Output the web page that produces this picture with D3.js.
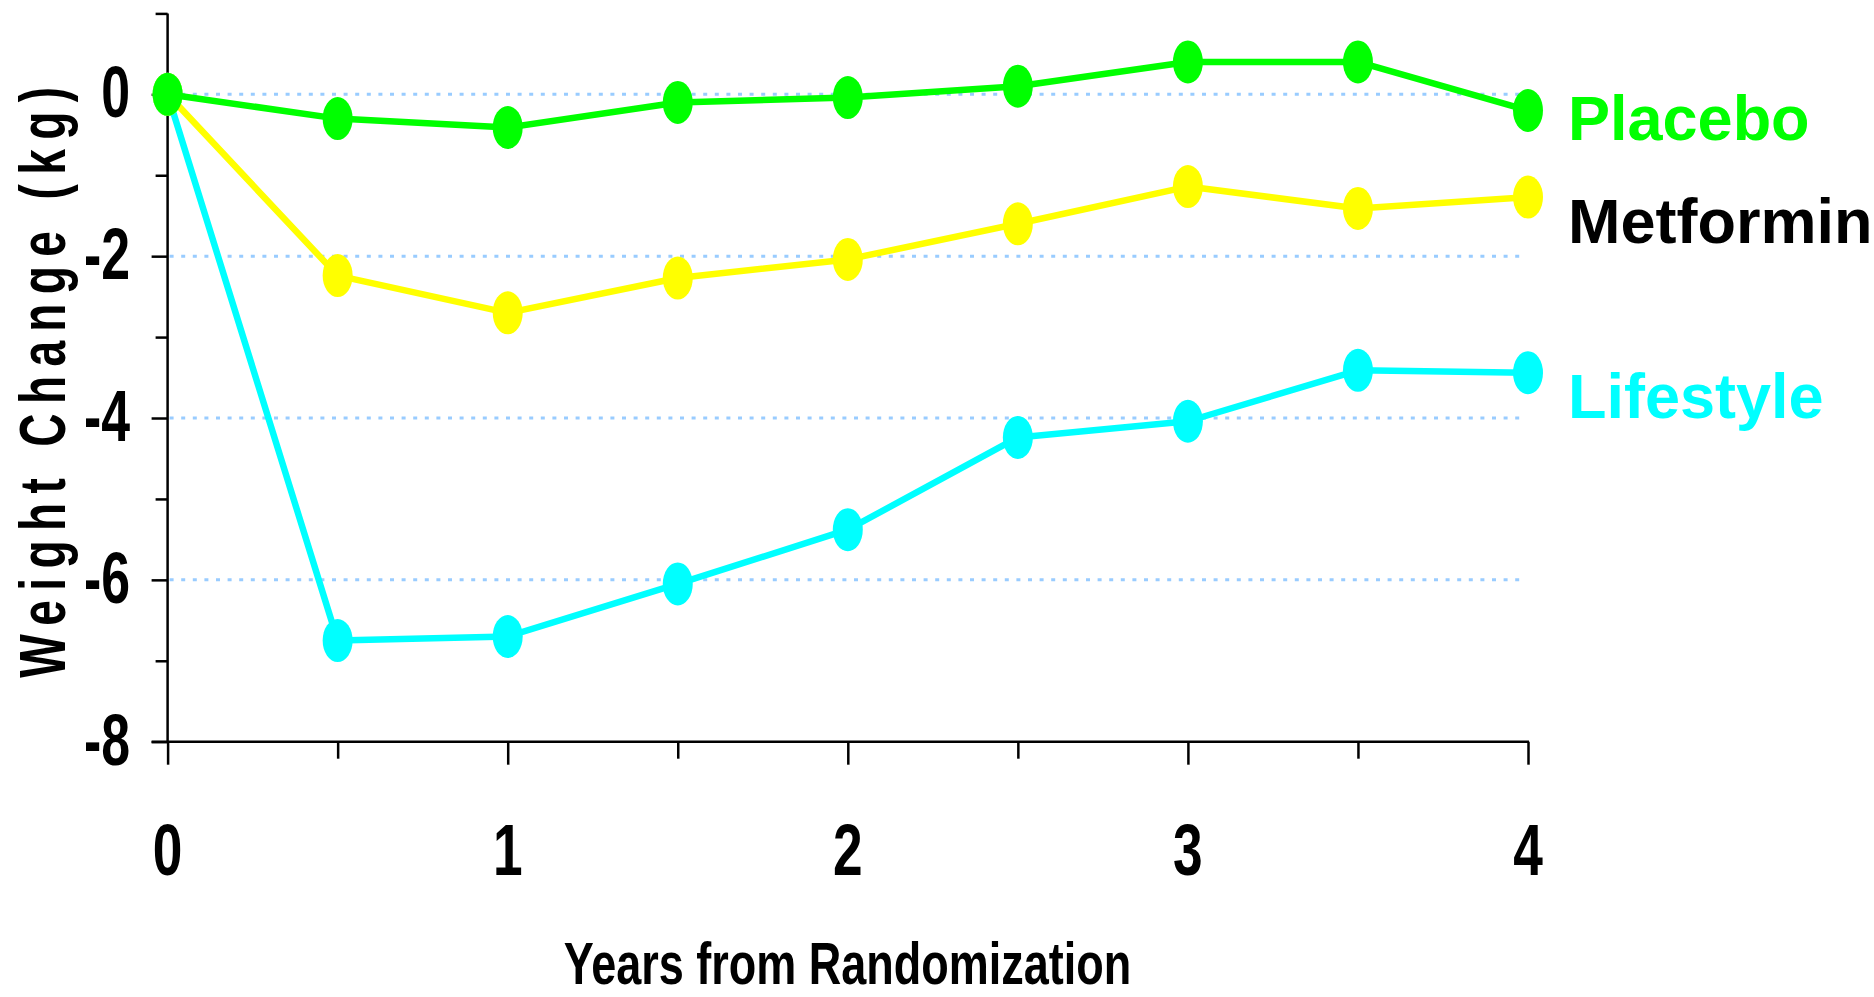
<!DOCTYPE html>
<html>
<head>
<meta charset="utf-8">
<script src="https://cdn.jsdelivr.net/npm/d3@7"></script>
<style>
  html, body { margin: 0; padding: 0; background: #ffffff; overflow: hidden; }
  svg { display: block; }
  text { font-family: "Liberation Sans", Arial, Helvetica, sans-serif; font-weight: bold; }
</style>
</head>
<body>
<svg id="chart" width="1874" height="997"></svg>
<script>
// ---------- data ----------
const years = [0, 0.5, 1, 1.5, 2, 2.5, 3, 3.5, 4];
const placebo   = [0, -0.30, -0.41, -0.10, -0.04, 0.10, 0.40, 0.40, -0.20];
const metformin = [0, -2.24, -2.70, -2.27, -2.04, -1.60, -1.14, -1.41, -1.27];
const lifestyle = [0, -6.75, -6.70, -6.05, -5.38, -4.24, -4.04, -3.41, -3.44];
const seriesNames = ["Lifestyle", "Metformin", "Placebo"];
const xTickValues = [0, 1, 2, 3, 4];
const xTickLabels = ["0", "1", "2", "3", "4"];
const xMinorValues = [0.5, 1.5, 2.5, 3.5];
const yTickValues = [-8, -6, -4, -2, 0];
const yTickLabels = ["-8", "-6", "-4", "-2", "0"];
const yMinorValues = [-7, -5, -3, -1, 1];
const gridValues = [-6, -4, -2, 0];
const xTitle = "Years from Randomization";
const yTitle = "Weight Change (kg)";

// ---------- layout / style ----------
const seriesValues = { Lifestyle: lifestyle, Metformin: metformin, Placebo: placebo };
const lineColors = { Lifestyle: "#00FFFF", Metformin: "#FFFF00", Placebo: "#00FF00" };
const labelColors = { Lifestyle: "#00FFFF", Metformin: "#000000", Placebo: "#00FF00" };
const labelDy = { Lifestyle: 45, Metformin: 46, Placebo: 29 };

const svg = d3.select("#chart");
const x = d3.scaleLinear().domain([0, 4]).range([167.6, 1528]);
const y = d3.scaleLinear().domain([-8, 1]).range([741.7, 13.4]);

// grid
svg.append("g").selectAll("line").data(gridValues).join("line")
  .attr("x1", x(0) + 2).attr("x2", 1523)
  .attr("y1", d => y(d)).attr("y2", d => y(d))
  .attr("stroke", "#99CCFF").attr("stroke-width", 3)
  .attr("stroke-dasharray", "4 7.6");

// y axis (major + minor ticks)
const yMajor = d3.axisLeft(y).tickValues(yTickValues).tickSize(16).tickFormat("");
const yMinor = d3.axisLeft(y).tickValues(yMinorValues).tickSize(12).tickFormat("");
const gy = svg.append("g").attr("transform", `translate(${x(0)},0)`);
gy.call(yMajor);
gy.select(".domain").remove();
const gy2 = svg.append("g").attr("transform", `translate(${x(0)},0)`);
gy2.call(yMinor);
gy2.select(".domain").remove();

// x axis
const xMajor = d3.axisBottom(x).tickValues(xTickValues).tickSize(23).tickFormat("");
const xMinor = d3.axisBottom(x).tickValues(xMinorValues).tickSize(17).tickFormat("");
const gx = svg.append("g").attr("transform", `translate(0,${y(-8)})`);
gx.call(xMajor);
gx.select(".domain").remove();
const gx2 = svg.append("g").attr("transform", `translate(0,${y(-8)})`);
gx2.call(xMinor);
gx2.select(".domain").remove();
svg.selectAll(".tick line").attr("stroke", "#000").attr("stroke-width", 2.5);

// axis lines
svg.append("line").attr("x1", x(0)).attr("x2", x(0)).attr("y1", y(1)).attr("y2", y(-8))
  .attr("stroke", "#000").attr("stroke-width", 2.5);
svg.append("line").attr("x1", x(0) - 16).attr("x2", x(4) + 1).attr("y1", y(-8)).attr("y2", y(-8))
  .attr("stroke", "#000").attr("stroke-width", 2.5);

// y tick labels
svg.append("g").selectAll("g").data(yTickValues).join("g")
  .attr("transform", d => `translate(130,${y(d) + 23})`)
  .append("text")
  .attr("transform", "scale(0.72,1)")
  .attr("text-anchor", "end")
  .attr("font-size", 72)
  .attr("fill", "#000")
  .text((d, i) => yTickLabels[i]);

// x tick labels
svg.append("g").selectAll("g").data(xTickValues).join("g")
  .attr("transform", d => `translate(${x(d)},875)`)
  .append("text")
  .attr("transform", "scale(0.74,1)")
  .attr("text-anchor", "middle")
  .attr("font-size", 72)
  .attr("fill", "#000")
  .text((d, i) => xTickLabels[i]);

// axis titles
svg.append("g").attr("transform", "translate(847.5,984)")
  .append("text").attr("transform", "scale(0.75,1)")
  .attr("text-anchor", "middle").attr("font-size", 60).attr("fill", "#000")
  .text(xTitle);

svg.append("g").attr("transform", "translate(65,382) rotate(-90)")
  .append("text").attr("transform", "scale(0.72,1)")
  .attr("text-anchor", "middle").attr("font-size", 64).attr("fill", "#000")
  .attr("letter-spacing", 13).attr("x", 6)
  .text(yTitle);

// lines and markers
const line = d3.line().x((d, i) => x(years[i])).y(d => y(d));
seriesNames.forEach(name => {
  const vals = seriesValues[name];
  svg.append("path").datum(vals)
    .attr("d", line).attr("fill", "none")
    .attr("stroke", lineColors[name]).attr("stroke-width", 6.5)
    .attr("stroke-linejoin", "round");
  svg.append("g").selectAll("ellipse").data(vals).join("ellipse")
    .attr("cx", (d, i) => x(years[i])).attr("cy", d => y(d))
    .attr("rx", 15).attr("ry", 21.5)
    .attr("fill", lineColors[name]);
});

// series labels (at right end)
seriesNames.forEach(name => {
  const vals = seriesValues[name];
  svg.append("text")
    .attr("x", x(4) + 40)
    .attr("y", y(vals[vals.length - 1]) + labelDy[name])
    .attr("font-size", 63)
    .attr("fill", labelColors[name])
    .text(name);
});
</script>
</body>
</html>
